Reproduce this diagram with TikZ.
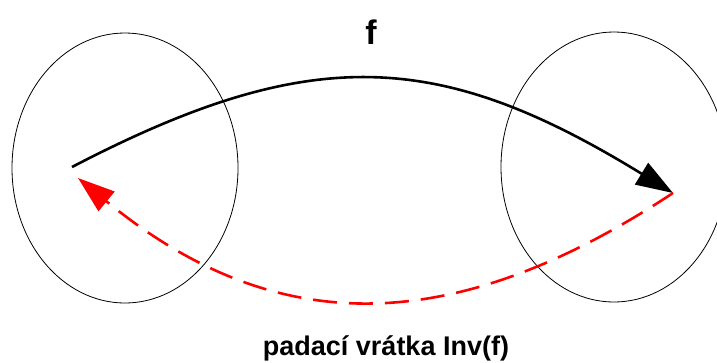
\documentclass[tikz,border=0pt]{standalone}
\usepackage{fontspec}
\setmainfont{Liberation Sans}
\usepackage{tikz}
\usetikzlibrary{arrows.meta,shapes.geometric}

\begin{document}
\begin{tikzpicture}[
		x=1pt, y=-1pt,
		set/.style={ellipse, draw, line width=0.8pt, minimum width=226pt, minimum height=270pt, inner sep=0pt},
		map/.style={line width=2.6pt, -{Triangle[length=37pt,width=25pt]}},
		inv/.style={map, red, dash pattern=on 24pt off 12pt},
		lbl/.style={font=\bfseries, inner sep=0pt, anchor=base}
		]
		
		\useasboundingbox (0,0) rectangle (717,362);
		\clip (0,0) rectangle (717,362);
		
		\node[set] (dom) at (125,168) {};
		\node[set] (cod) at (614,167) {};
		\coordinate (x) at (72,167);
		\coordinate (y) at (673,193);
		\coordinate (xb) at (78,178);
		
		\draw[map] (x) .. controls (312,42) and (440,50) .. (y);
		\draw[inv] (y) .. controls (456,336) and (278,342) .. (xb);
		
		\node[lbl, font=\fontsize{34}{40}\selectfont\bfseries] (f) at (371,44) {f};
		\node[lbl, font=\fontsize{27}{32}\selectfont\bfseries] (trap) at (386,355) {padací vrátka Inv(f)};
		
	\end{tikzpicture}
\end{document}
